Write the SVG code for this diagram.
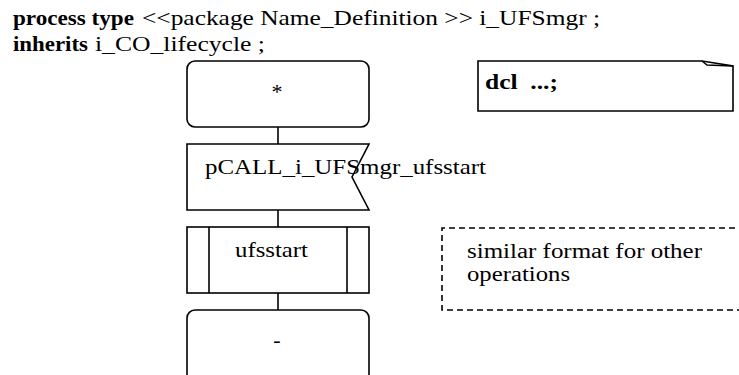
<svg xmlns="http://www.w3.org/2000/svg" width="739" height="375" viewBox="0 0 739 375">
  <style>
    .t { font-family: "Liberation Serif", "Times New Roman", serif; font-size: 22px; fill: #000; }
    .n { font-size: 20px; }
    .b { font-weight: bold; }
    .s { fill: #fff; stroke: #000; stroke-width: 1.6; }
    .c { fill: none; stroke: #000; stroke-width: 1.6; }
    .d { fill: none; stroke: #000; stroke-width: 1.6; stroke-dasharray: 6 4; }
  </style>
  <rect width="739" height="375" fill="#fff"/>
  <g id="header">
    <text class="t b" x="13" y="25" textLength="121" lengthAdjust="spacingAndGlyphs">process type</text>
    <text class="t" x="142" y="25" textLength="458" lengthAdjust="spacingAndGlyphs">&lt;&lt;package Name_Definition &gt;&gt; i_UFSmgr ;</text>
    <text class="t b" x="13" y="51" textLength="75" lengthAdjust="spacingAndGlyphs">inherits</text>
    <text class="t" x="95" y="51" textLength="170" lengthAdjust="spacingAndGlyphs">i_CO_lifecycle ;</text>
  </g>
  <g id="connectors">
    <line class="c" x1="278" y1="127" x2="278" y2="144"/>
    <line class="c" x1="278" y1="210" x2="278" y2="227"/>
    <line class="c" x1="278" y1="293" x2="278" y2="310"/>
  </g>
  <g id="node-start">
    <rect class="s" x="187" y="61" width="182" height="66" rx="8" ry="8"/>
    <text class="t" x="277" y="99" text-anchor="middle">*</text>
  </g>
  <g id="node-input">
    <polygon class="s" points="187,144 369,144 352,177 369,210 187,210"/>
    <text class="t" x="205" y="174" textLength="281" lengthAdjust="spacingAndGlyphs">pCALL_i_UFSmgr_ufsstart</text>
  </g>
  <g id="node-procedure">
    <rect class="s" x="187" y="227" width="182" height="66"/>
    <line class="c" x1="209" y1="227" x2="209" y2="293"/>
    <line class="c" x1="347" y1="227" x2="347" y2="293"/>
    <text class="t" x="235" y="257" textLength="73" lengthAdjust="spacingAndGlyphs">ufsstart</text>
  </g>
  <g id="node-end">
    <rect class="s" x="187" y="310" width="182" height="80" rx="8" ry="8"/>
    <text class="t" x="277" y="347" text-anchor="middle">-</text>
  </g>
  <g id="node-dcl">
    <path class="s" d="M478,61 H702 L733,66 V111 H478 Z"/>
    <path class="c" d="M702,61 L707,65 L733,66"/>
    <text class="t b" x="485" y="89" textLength="73" lengthAdjust="spacingAndGlyphs" xml:space="preserve">dcl  ...;</text>
  </g>
  <g id="node-note">
    <path class="d" d="M745,228 H442 V310 H745"/>
    <text class="t n" x="467" y="258" textLength="235" lengthAdjust="spacingAndGlyphs">similar format for other</text>
    <text class="t n" x="467" y="281" textLength="103" lengthAdjust="spacingAndGlyphs">operations</text>
  </g>
</svg>
